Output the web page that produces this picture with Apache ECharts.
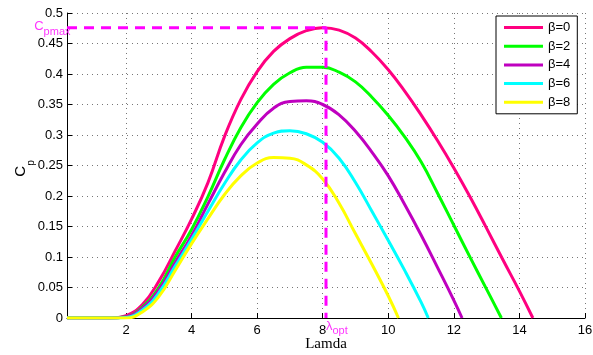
<!DOCTYPE html>
<html>
<head>
<meta charset="utf-8">
<script src="https://cdn.jsdelivr.net/npm/echarts@6/dist/echarts.min.js"></script>
<style>
html, body { margin: 0; padding: 0; background: #fff; }
#chart { width: 593px; height: 355px; }
</style>
</head>
<body>
<div id="chart"></div>
<script>
// Tip speed ratio samples shared by every curve
const lamda = [0.2, 0.5, 1, 1.5, 2, 2.5, 3, 3.5, 4, 4.5, 5, 5.5, 6, 6.5, 7, 7.5,
               8, 8.5, 9, 9.5, 10, 10.5, 11, 11.5, 12, 12.5, 13, 13.5, 14];

// Power coefficient for each pitch angle (null once the curve has reached zero)
const cpBeta0 = [0, 0, 0, 0, 0.004, 0.022, 0.06, 0.11, 0.162, 0.222, 0.297, 0.358, 0.404, 0.437, 0.458, 0.471,
                 0.476, 0.472, 0.459, 0.436, 0.407, 0.372, 0.333, 0.291, 0.246, 0.198, 0.147, 0.095, 0.044];
const cpBeta2 = [0, 0, 0, 0, 0.002, 0.018, 0.05, 0.10, 0.145, 0.199, 0.259, 0.312, 0.353, 0.383, 0.402, 0.411,
                 0.411, 0.403, 0.387, 0.362, 0.332, 0.297, 0.256, 0.205, 0.152, 0.099, 0.047, null, null];
const cpBeta4 = [0, 0, 0, 0, 0.002, 0.016, 0.046, 0.091, 0.135, 0.187, 0.238, 0.284, 0.318, 0.344, 0.355, 0.356,
                 0.350, 0.333, 0.306, 0.272, 0.233, 0.186, 0.136, 0.083, 0.029, null, null, null, null];
const cpBeta6 = [0, 0, 0, 0, 0.001, 0.013, 0.041, 0.085, 0.129, 0.175, 0.22, 0.259, 0.287, 0.303, 0.307, 0.302,
                 0.288, 0.262, 0.222, 0.175, 0.127, 0.078, 0.026, null, null, null, null, null, null];
const cpBeta8 = [0, 0, 0, 0, 0, 0.01, 0.035, 0.078, 0.122, 0.163, 0.202, 0.233, 0.254, 0.263, 0.262, 0.251,
                 0.228, 0.188, 0.138, 0.088, 0.036, null, null, null, null, null, null, null, null];

// Tip speed ratio where each curve falls back to Cp = 0
const zeroCrossing = [14.41, 13.45, 12.25, 11.22, 10.31];
const betaNames = ['β=0', 'β=2', 'β=4', 'β=6', 'β=8'];
const xTickValues = [2, 4, 6, 8, 10, 12, 14, 16];

// Optimum operating point
const lamdaOpt = 8.1;
const cpMax = 0.476;

const lineColors = ['#ff0080', '#00ff00', '#bf00bf', '#00ffff', '#ffff00'];
const cpSeries = [cpBeta0, cpBeta2, cpBeta4, cpBeta6, cpBeta8];

function curvePoints(values, end) {
  const pts = [];
  values.forEach(function (v, i) {
    if (v !== null) pts.push([lamda[i], v]);
  });
  pts.push([end, 0]);
  return pts;
}

// Main letter raised by bottom padding, subscript sits at the bottom of the line
const subRich = {
  c: { fontFamily: 'Liberation Sans', fontSize: 13, lineHeight: 13, padding: [0, 0, 8, 0], color: '#ff00ff' },
  s: { fontFamily: 'Liberation Sans', fontSize: 11, lineHeight: 11, verticalAlign: 'bottom', color: '#ff00ff' }
};

const series = cpSeries.map(function (vals, k) {
  return {
    name: betaNames[k],
    type: 'line',
    data: curvePoints(vals, zeroCrossing[k]),
    smooth: 0.45,
    symbol: 'none',
    lineStyle: { width: 3, color: lineColors[k] },
    itemStyle: { color: lineColors[k] },
    z: 2 + k
  };
});

// Dashed guide lines to the optimum point
series.push({
  name: 'opt',
  type: 'line',
  clip: false,
  symbol: 'none',
  silent: true,
  z: 10,
  lineStyle: { width: 3, color: '#ff00ff', type: [10, 7] },
  data: [[lamda[0], cpMax], [lamdaOpt, cpMax], [lamdaOpt, 0]]
});

// Labels of the optimum point
series.push({
  name: 'optLabels',
  type: 'scatter',
  clip: false,
  silent: true,
  symbolSize: 1,
  z: 11,
  itemStyle: { color: 'rgba(0,0,0,0)' },
  data: [
    {
      value: [lamda[0], cpMax],
      label: {
        show: true, position: 'left', distance: -4, offset: [0, 3],
        formatter: '{c|C}{s|pmax}', rich: subRich
      }
    },
    {
      value: [lamdaOpt, 0],
      label: {
        show: true, position: 'bottom', align: 'left', distance: 0, offset: [0, 5],
        formatter: '{c|λ}{s|opt}', rich: subRich
      }
    }
  ]
});

const chart = echarts.init(document.getElementById('chart'), null, { renderer: 'canvas' });
chart.setOption({
  animation: false,
  backgroundColor: '#fff',
  grid: { left: 67, right: 8, top: 13, bottom: 37, containLabel: false, outerBoundsMode: 'none' },
  legend: {
    data: betaNames,
    orient: 'vertical',
    left: 496,
    top: 16,
    padding: [5, 7, 5, 8],
    itemGap: 5.7,
    itemWidth: 39,
    itemHeight: 3,
    icon: 'rect',
    backgroundColor: '#fff',
    borderColor: '#000',
    borderWidth: 1,
    borderRadius: 0,
    textStyle: { fontFamily: 'Liberation Sans', fontSize: 13, lineHeight: 13, color: '#000' }
  },
  xAxis: {
    type: 'value',
    min: lamda[0],
    max: 16,
    name: 'Lamda',
    nameLocation: 'middle',
    nameGap: 19,
    nameMoveOverlap: false,
    nameTextStyle: { fontFamily: 'Liberation Serif', fontSize: 15, color: '#000' },
    axisLine: { show: true, onZero: false, lineStyle: { color: '#000', width: 1 } },
    axisTick: { show: true, inside: true, length: 5, customValues: xTickValues, lineStyle: { color: '#000' } },
    axisLabel: { customValues: xTickValues, margin: 6, fontFamily: 'Liberation Sans', fontSize: 13, color: '#000' },
    splitLine: { show: true, lineStyle: { color: '#777', width: 1, type: [1, 4] } }
  },
  yAxis: {
    type: 'value',
    min: 0,
    max: 0.5,
    interval: 0.05,
    name: '{m|C}{n|p}',
    nameLocation: 'middle',
    nameRotate: 90,
    nameGap: 31,
    nameMoveOverlap: false,
    nameTextStyle: {
      rich: {
        m: { fontFamily: 'Liberation Sans', fontSize: 15, lineHeight: 15, padding: [0, 0, 15, 0], color: '#000' },
        n: { fontFamily: 'Liberation Sans', fontSize: 10, lineHeight: 10, verticalAlign: 'bottom', padding: [0, 6, 0, 0], color: '#000' }
      }
    },
    axisLine: { show: true, lineStyle: { color: '#000', width: 1 } },
    axisTick: { show: true, inside: true, length: 5, lineStyle: { color: '#000' } },
    axisLabel: { margin: 4, fontFamily: 'Liberation Sans', fontSize: 13, color: '#000' },
    splitLine: { show: true, lineStyle: { color: '#777', width: 1, type: [1, 4] } }
  },
  series: series
});
</script>
</body>
</html>
